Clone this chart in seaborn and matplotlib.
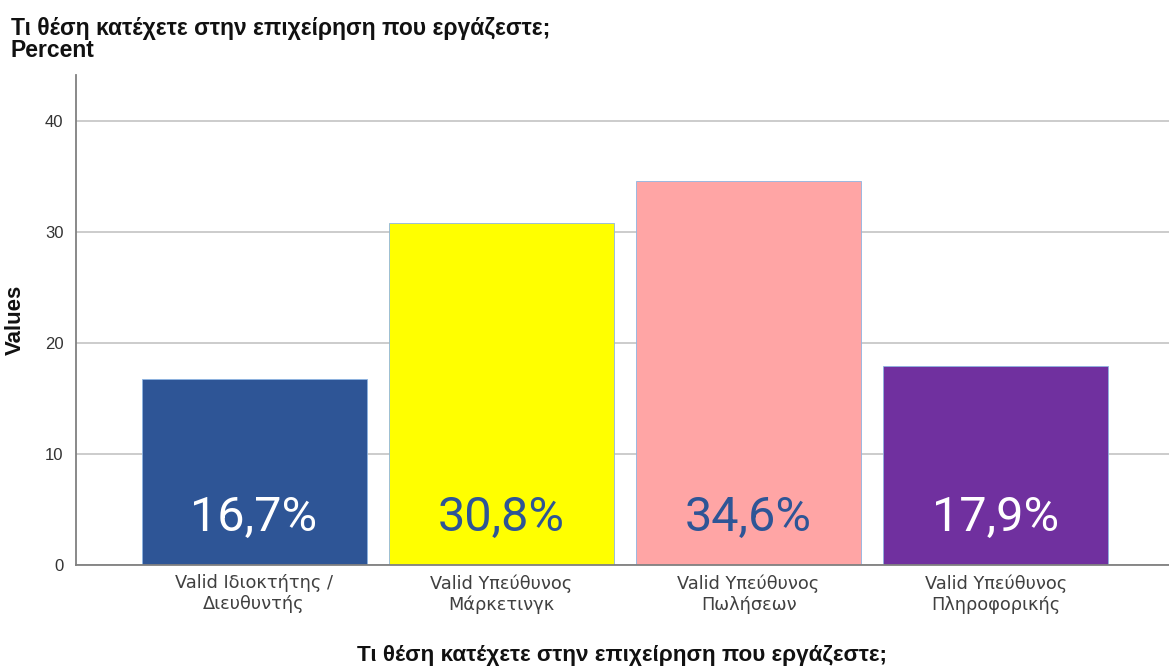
import matplotlib
matplotlib.use("Agg")
import matplotlib.pyplot as plt
import seaborn as sns
import pandas as pd

# Data
categories = [
    "Valid Ιδιοκτήτης /\nΔιευθυντής",
    "Valid Υπεύθυνος\nΜάρκετινγκ",
    "Valid Υπεύθυνος\nΠωλήσεων",
    "Valid Υπεύθυνος\nΠληροφορικής",
]
percent = [16.7, 30.8, 34.6, 17.9]
bar_colors = ["#2E5596", "#FFFF00", "#FFA5A5", "#70309F"]
label_colors = ["#FFFFFF", "#2E5596", "#2E5596", "#FFFFFF"]
yticks = [0, 10, 20, 30, 40]

title = "Τι θέση κατέχετε στην επιχείρηση που εργάζεστε;\nPercent"
xlabel = "Τι θέση κατέχετε στην επιχείρηση που εργάζεστε;"
ylabel = "Values"

sns.set_theme(style="white")
plt.rcParams["font.family"] = ["Liberation Sans", "DejaVu Sans"]

df = pd.DataFrame({"category": categories, "percent": percent})

fig = plt.figure(figsize=(11.69, 6.66), dpi=100)
ax = fig.add_axes([0.065, 0.152, 0.935, 0.735])

sns.barplot(
    data=df, x="category", y="percent", hue="category",
    palette=bar_colors, legend=False, width=0.91,
    edgecolor="#8DB4E2", linewidth=0.6, saturation=1, ax=ax,
)

# value labels inside each bar, near the base
for i, v in enumerate(percent):
    ax.text(i, 4.2, f"{v:.1f}%".replace(".", ","), ha="center", va="center",
            fontsize=35, color=label_colors[i],
            family=["Roboto", "DejaVu Sans"])

ax.set_ylim(0, 44.1)
ax.set_xlim(-0.72, 3.70)
ax.set_yticks(yticks)
ax.yaxis.grid(True, color="#C8C8C8", linewidth=1.3)
ax.set_axisbelow(True)

for side in ["top", "right"]:
    ax.spines[side].set_visible(False)
for side in ["left", "bottom"]:
    ax.spines[side].set_color("#808080")
    ax.spines[side].set_linewidth(1.3)

ax.tick_params(axis="y", length=0, pad=9, labelsize=12, labelcolor="#333333")
ax.tick_params(axis="x", length=0, pad=7, labelcolor="#404040")
for lbl in ax.get_xticklabels():
    lbl.set_fontfamily(["DejaVu Sans"])
    lbl.set_fontsize(12.8)
    lbl.set_linespacing(1.2)

ax.set_xlabel(xlabel, fontsize=16.2, fontweight="bold", color="#111111", labelpad=22)
ax.set_ylabel(ylabel, fontsize=16, fontweight="bold", color="#111111", labelpad=14)

fig.text(0.009, 0.975, title, ha="left", va="top", fontsize=16.5,
         fontweight="bold", color="#111111", linespacing=0.95)

fig.savefig("out.png", dpi=100)
